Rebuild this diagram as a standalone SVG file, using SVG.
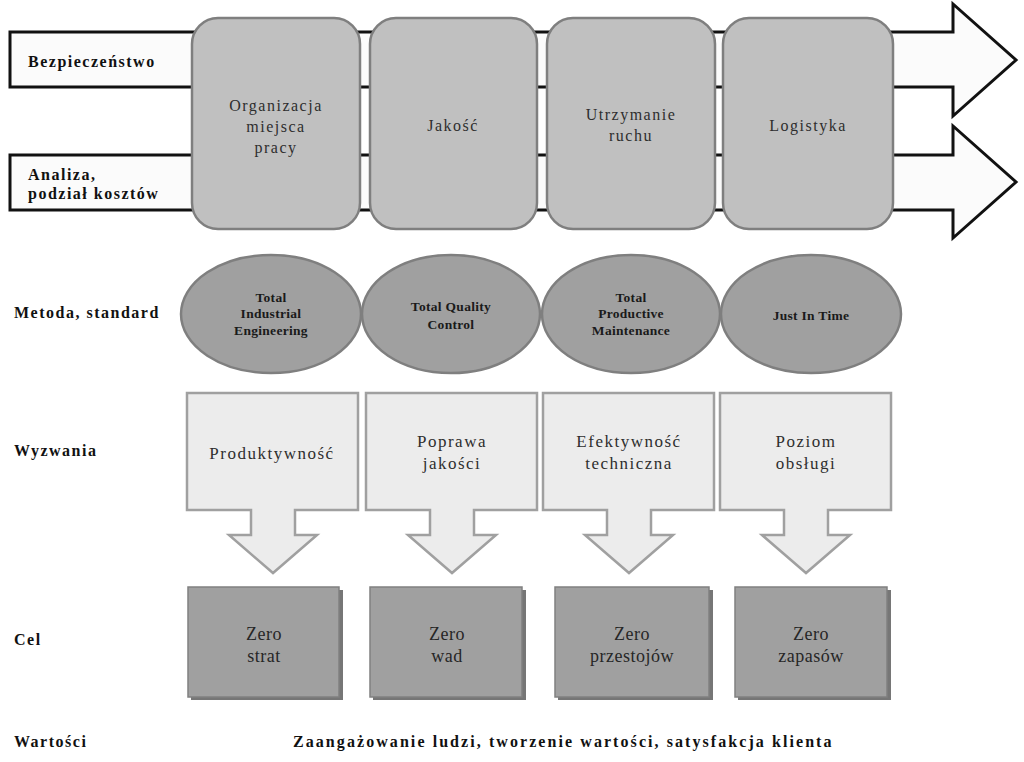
<svg xmlns="http://www.w3.org/2000/svg" width="1024" height="762" viewBox="0 0 1024 762">
<defs>
<style>
.bg{fill:#ffffff}
.arrow{fill:#fbfbfb;stroke:#111;stroke-width:3;stroke-linejoin:miter}
.area{fill:#c0c0c0;stroke:#7f7f7f;stroke-width:2.5}
.meth{fill:#a0a0a0;stroke:#7f7f7f;stroke-width:2.5}
.chal{fill:#ececec;stroke:#a0a0a0;stroke-width:2.5;stroke-linejoin:miter}
.goal{fill:#a0a0a0;stroke:#808080;stroke-width:1.5}
.shadow{fill:#767676}
.lbl{font-family:"Liberation Serif","Times New Roman",serif;font-weight:bold;font-size:16px;letter-spacing:1.5px;fill:#111}
.t1{font-family:"Liberation Serif","Times New Roman",serif;font-size:16px;letter-spacing:1.5px;fill:#2e2e2e;text-anchor:middle}
.t2{font-family:"Liberation Serif","Times New Roman",serif;font-weight:bold;font-size:13.5px;letter-spacing:0.3px;fill:#1a1a1a;text-anchor:middle}
.t3{font-family:"Liberation Serif","Times New Roman",serif;font-size:17px;letter-spacing:1.5px;fill:#2e2e2e;text-anchor:middle}
.t4{font-family:"Liberation Serif","Times New Roman",serif;font-size:18px;letter-spacing:0.5px;fill:#262626;text-anchor:middle}
</style>
</defs>
<rect class="bg" x="0" y="0" width="1024" height="762"/>

<g id="connectors">
  <polygon id="arrow-bezpieczenstwo" class="arrow" points="10,32 953,32 953,4 1016,60 953,116 953,87 10,87"/>
  <polygon id="arrow-analiza" class="arrow" points="10,155 953,155 953,126 1016,182 953,238 953,210 10,210"/>
</g>

<g id="label-bezpieczenstwo"><text class="lbl" x="28" y="67">Bezpieczeństwo</text></g>
<g id="label-analiza"><text class="lbl" x="28" y="180">Analiza,</text><text class="lbl" x="28" y="199">podział kosztów</text></g>

<g id="area-organizacja"><rect class="area" x="192" y="18" width="168" height="211" rx="26"/>
<text class="t1" x="276" y="111">Organizacja</text><text class="t1" x="276" y="132">miejsca</text><text class="t1" x="276" y="153">pracy</text></g>
<g id="area-jakosc"><rect class="area" x="370" y="18" width="167" height="211" rx="26"/>
<text class="t1" x="453" y="131">Jakość</text></g>
<g id="area-utrzymanie"><rect class="area" x="547" y="18" width="168" height="211" rx="26"/>
<text class="t1" x="631" y="120">Utrzymanie</text><text class="t1" x="631" y="141">ruchu</text></g>
<g id="area-logistyka"><rect class="area" x="723" y="18" width="170" height="211" rx="26"/>
<text class="t1" x="808" y="131">Logistyka</text></g>

<g id="label-metoda"><text class="lbl" x="14" y="318">Metoda, standard</text></g>
<g id="method-tie"><ellipse class="meth" cx="271" cy="314" rx="90" ry="59"/>
<text class="t2" x="271" y="302">Total</text><text class="t2" x="271" y="318">Industrial</text><text class="t2" x="271" y="335">Engineering</text></g>
<g id="method-tqc"><ellipse class="meth" cx="451" cy="314" rx="89" ry="59"/>
<text class="t2" x="451" y="311">Total Quality</text><text class="t2" x="451" y="329">Control</text></g>
<g id="method-tpm"><ellipse class="meth" cx="631" cy="314" rx="89" ry="59"/>
<text class="t2" x="631" y="302">Total</text><text class="t2" x="631" y="318">Productive</text><text class="t2" x="631" y="335">Maintenance</text></g>
<g id="method-jit"><ellipse class="meth" cx="811" cy="314" rx="90" ry="59"/>
<text class="t2" x="811" y="320">Just In Time</text></g>

<g id="label-wyzwania"><text class="lbl" x="14" y="456">Wyzwania</text></g>
<g id="challenge-produktywnosc"><polygon class="chal" points="187,393 358,393 358,510 295,510 295,535 317,535 273,573 229,535 251,535 251,510 187,510"/>
<text class="t3" x="272" y="459">Produktywność</text></g>
<g id="challenge-jakosc"><polygon class="chal" points="366,393 537,393 537,510 474,510 474,535 496,535 452,573 408,535 430,535 430,510 366,510"/>
<text class="t3" x="452" y="447">Poprawa</text><text class="t3" x="452" y="469">jakości</text></g>
<g id="challenge-efektywnosc"><polygon class="chal" points="543,393 714,393 714,510 651,510 651,535 673,535 629,573 585,535 607,535 607,510 543,510"/>
<text class="t3" x="629" y="447">Efektywność</text><text class="t3" x="629" y="469">techniczna</text></g>
<g id="challenge-obsluga"><polygon class="chal" points="720,393 891,393 891,510 828,510 828,535 850,535 806,573 762,535 784,535 784,510 720,510"/>
<text class="t3" x="806" y="447">Poziom</text><text class="t3" x="806" y="469">obsługi</text></g>

<g id="label-cel"><text class="lbl" x="14" y="645">Cel</text></g>
<g id="goal-strat"><rect class="shadow" x="191" y="590" width="152" height="110"/><rect class="goal" x="188" y="587" width="151" height="110"/>
<text class="t4" x="264" y="640">Zero</text><text class="t4" x="264" y="662">strat</text></g>
<g id="goal-wad"><rect class="shadow" x="373" y="590" width="153" height="110"/><rect class="goal" x="370" y="587" width="152" height="110"/>
<text class="t4" x="447" y="640">Zero</text><text class="t4" x="447" y="662">wad</text></g>
<g id="goal-przestojow"><rect class="shadow" x="558" y="590" width="155" height="110"/><rect class="goal" x="555" y="587" width="154" height="110"/>
<text class="t4" x="632" y="640">Zero</text><text class="t4" x="632" y="662">przestojów</text></g>
<g id="goal-zapasow"><rect class="shadow" x="738" y="590" width="153" height="110"/><rect class="goal" x="735" y="587" width="152" height="110"/>
<text class="t4" x="811" y="640">Zero</text><text class="t4" x="811" y="662">zapasów</text></g>

<g id="label-wartosci"><text class="lbl" x="14" y="747">Wartości</text></g>
<g id="values"><text class="lbl" x="293" y="747" textLength="540" lengthAdjust="spacing">Zaangażowanie ludzi, tworzenie wartości, satysfakcja klienta</text></g>
</svg>
